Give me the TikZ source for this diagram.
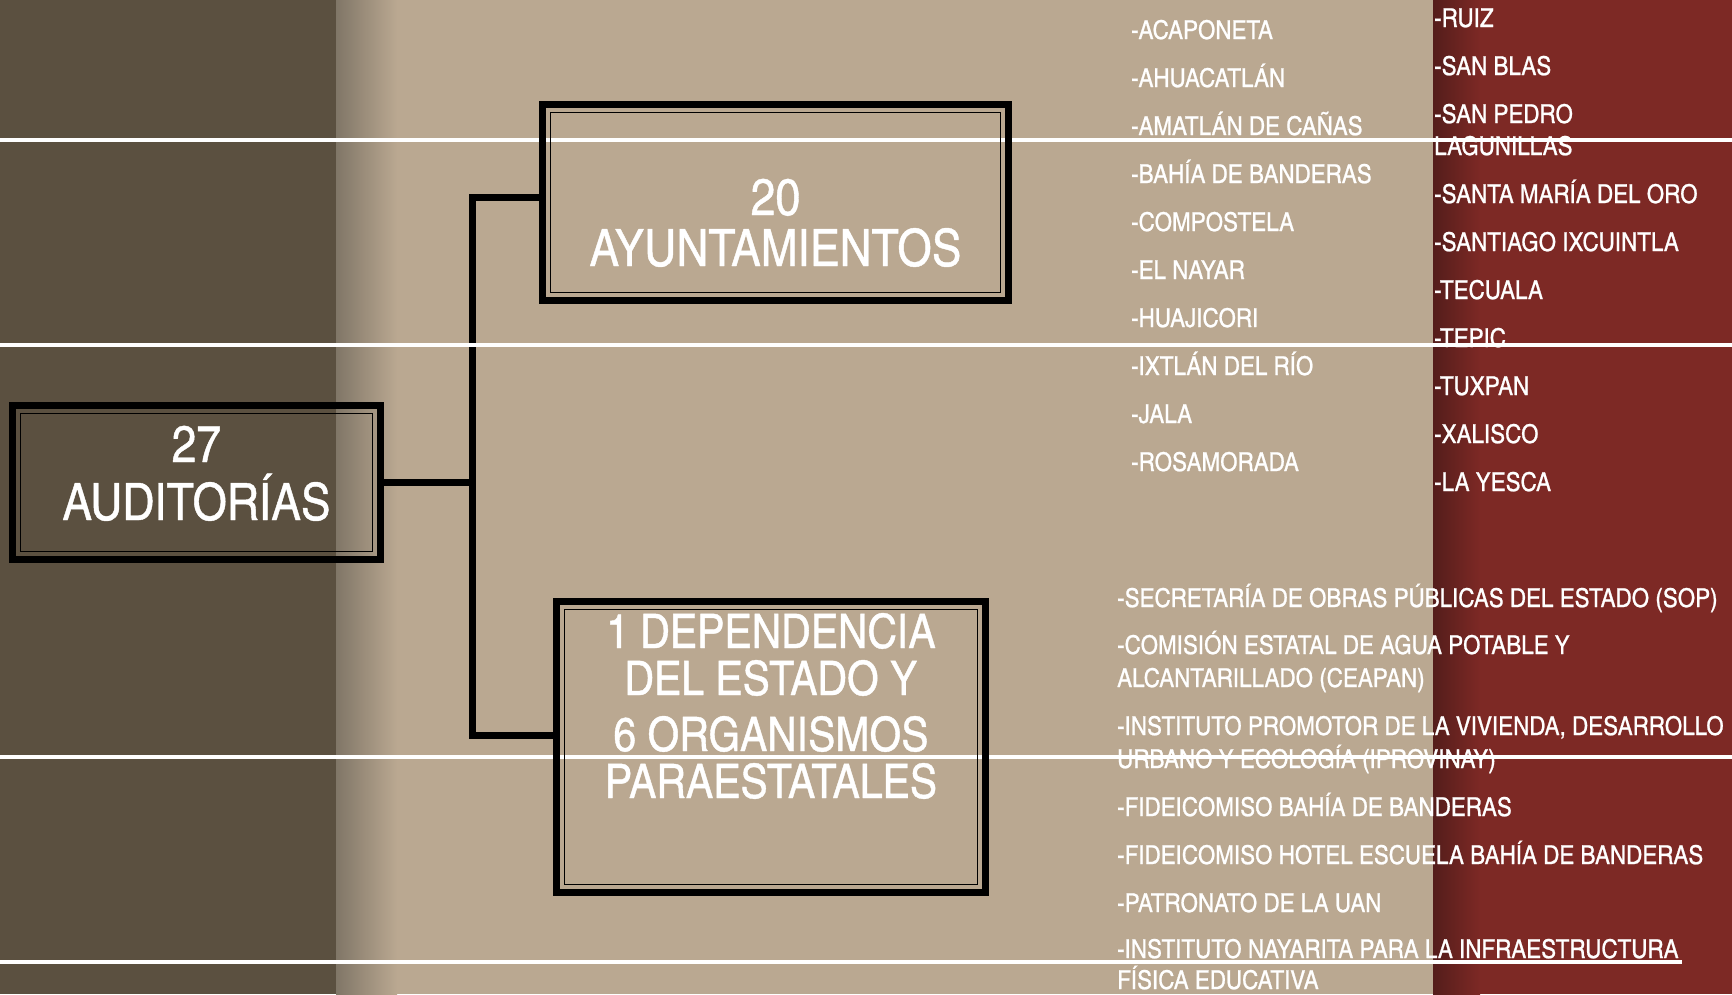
\documentclass[tikz,border=0pt]{standalone}
\usepackage{fontspec}
\setmainfont[FakeStretch=1.05,FakeBold=0.8]{texgyreheroscn-regular.otf}

\definecolor{olive}{RGB}{91,80,64}
\definecolor{fadegrey}{RGB}{128,118,103}
\definecolor{tan}{RGB}{186,168,145}
\definecolor{wine}{RGB}{125,41,37}
\definecolor{winedark}{RGB}{84,29,27}

\tikzset{
  framebox/.style={draw=black,line width=7pt,inner sep=0pt,
    path picture={\draw[line width=1.3pt] ([shift={(8pt,-8pt)}]path picture bounding box.north west) rectangle ([shift={(-8pt,8pt)}]path picture bounding box.south east);}},
  conn/.style={draw=black,line width=7pt,line join=miter},
  rule/.style={draw=white,line width=4.5pt},
  bigtxt/.style={text=white,inner sep=0pt,anchor=base,align=center},
  listtxt/.style={text=white,inner sep=0pt,anchor=base west,align=left,font=\fontsize{26}{33}\selectfont}
}

\begin{document}
\begin{tikzpicture}[x=1pt,y=-1pt]
\useasboundingbox (0,0) rectangle (1732,994);
% background bands
\fill[olive] (0,0) rectangle (337,994);
\fill[tan] (337,0) rectangle (1433,994);
\shade[left color=fadegrey,right color=tan] (336,0) rectangle (397,994);
\fill[wine] (1433,0) rectangle (1732,994);
\shade[left color=winedark,right color=wine] (1433,0) rectangle (1480,994);

% boxes
\node[framebox,minimum width=368pt,minimum height=154pt] (aud) at (196.5,482.5) {};
\node[framebox,minimum width=466pt,minimum height=196pt] (ayu) at (775.5,202.5) {};
\node[framebox,minimum width=429pt,minimum height=291pt] (dep) at (771,747) {};

% connectors
\coordinate (trunk) at (472,482.5);
\draw[conn] (aud.east) -- (trunk);
\draw[conn] ([yshift=5.5pt]ayu.west) -| (trunk) |- ([yshift=12pt]dep.west);

% white rules
\draw[rule] (0,140) -- (1732,140);
\draw[rule] (0,345) -- (1732,345);
\draw[rule] (0,757) -- (1732,757);
\draw[rule] (0,962) -- (1682,962);

% redraw frames over the rules
\node[framebox,minimum width=466pt,minimum height=196pt] (ayuf) at (ayu) {};
\node[framebox,minimum width=429pt,minimum height=291pt] (depf) at (dep) {};

% box texts
\node[bigtxt,font=\fontsize{51.5}{58}\selectfont] (audtxt) at (196.5,520) {27\\AUDITORÍAS};
\node[bigtxt,font=\fontsize{51.5}{51}\selectfont] (ayutxt) at (775.5,266) {20\\AYUNTAMIENTOS};
\node[bigtxt,font=\fontsize{47.5}{47}\selectfont] (deptxt) at (771,798) {1 DEPENDENCIA\\DEL ESTADO Y\\[9pt]6 ORGANISMOS\\PARAESTATALES};

% municipios, first column
\node[listtxt] (m1) at (1131,39) {-ACAPONETA};
\node[listtxt] (m2) at (1131,87) {-AHUACATLÁN};
\node[listtxt] (m3) at (1131,135) {-AMATLÁN DE CAÑAS};
\node[listtxt] (m4) at (1131,183) {-BAHÍA DE BANDERAS};
\node[listtxt] (m5) at (1131,231) {-COMPOSTELA};
\node[listtxt] (m6) at (1131,279) {-EL NAYAR};
\node[listtxt] (m7) at (1131,327) {-HUAJICORI};
\node[listtxt] (m8) at (1131,375) {-IXTLÁN DEL RÍO};
\node[listtxt] (m9) at (1131,423) {-JALA};
\node[listtxt] (m10) at (1131,471) {-ROSAMORADA};

% municipios, second column
\node[listtxt] (m11) at (1434,27) {-RUIZ};
\node[listtxt] (m12) at (1434,75) {-SAN BLAS};
\node[listtxt,font=\fontsize{26}{32}\selectfont] (m13) at (1434,155) {-SAN PEDRO\\LAGUNILLAS};
\node[listtxt] (m14) at (1434,203) {-SANTA MARÍA DEL ORO};
\node[listtxt] (m15) at (1434,251) {-SANTIAGO IXCUINTLA};
\node[listtxt] (m16) at (1434,299) {-TECUALA};
\node[listtxt] (m17) at (1434,347) {-TEPIC};
\node[listtxt] (m18) at (1434,395) {-TUXPAN};
\node[listtxt] (m19) at (1434,443) {-XALISCO};
\node[listtxt] (m20) at (1434,491) {-LA YESCA};

% dependencia y organismos
\node[listtxt] (o1) at (1117,607) {-SECRETARÍA DE OBRAS PÚBLICAS DEL ESTADO (SOP)};
\node[listtxt] (o2) at (1117,687) {-COMISIÓN ESTATAL DE AGUA POTABLE Y\\ALCANTARILLADO (CEAPAN)};
\node[listtxt] (o3) at (1117,768) {-INSTITUTO PROMOTOR DE LA VIVIENDA, DESARROLLO\\URBANO Y ECOLOGÍA (IPROVINAY)};
\node[listtxt] (o4) at (1117,816) {-FIDEICOMISO BAHÍA DE BANDERAS};
\node[listtxt] (o5) at (1117,864) {-FIDEICOMISO HOTEL ESCUELA BAHÍA DE BANDERAS};
\node[listtxt] (o6) at (1117,912) {-PATRONATO DE LA UAN};
\node[listtxt,font=\fontsize{26}{31}\selectfont] (o7) at (1117,989) {-INSTITUTO NAYARITA PARA LA INFRAESTRUCTURA\\FÍSICA EDUCATIVA};
\end{tikzpicture}
\end{document}
